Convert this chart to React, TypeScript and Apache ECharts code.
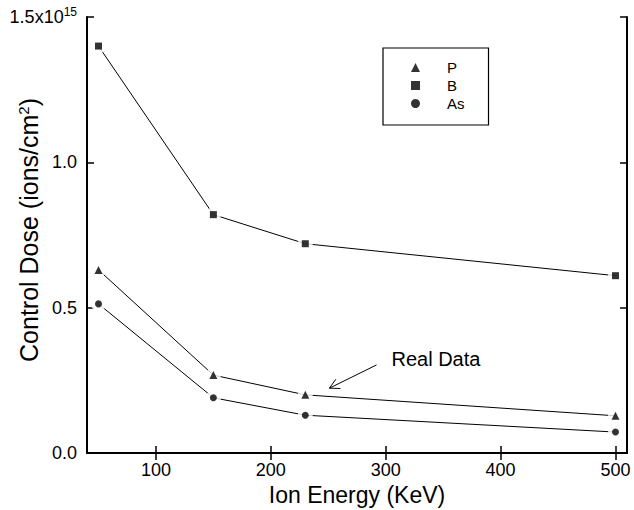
import React, { useEffect, useRef } from "react";
import * as echarts from "echarts";

const energies = [50, 150, 230, 500];
const doseP = [0.63, 0.268, 0.2, 0.128];
const doseB = [1.4, 0.82, 0.72, 0.61];
const doseAs = [0.513, 0.19, 0.13, 0.072];
const xTicks = [100, 200, 300, 400, 500];
const yTicks = [0, 0.5, 1.0, 1.5];

const FONT = "'Liberation Sans', Arial, Helvetica, sans-serif";

const seriesDefs = [
  { name: "P", values: doseP, symbol: "triangle", size: 8 },
  { name: "B", values: doseB, symbol: "rect", size: 7 },
  { name: "As", values: doseAs, symbol: "circle", size: 7 },
];

export default function App() {
  const ref = useRef<HTMLDivElement>(null);
  useEffect(() => {
    if (!ref.current) return;
    const chart = echarts.init(ref.current, undefined, { renderer: "svg" });
    const pairs = (vals: number[]) => energies.map((e, i) => [e, vals[i]]);
    const series: any[] = [];
    seriesDefs.forEach((s) => {
      series.push({
        name: s.name + "-line",
        type: "line",
        data: pairs(s.values),
        showSymbol: false,
        symbol: "none",
        lineStyle: { color: "#000", width: 1 },
        z: 2,
      });
      series.push({
        name: s.name + "-halo",
        type: "scatter",
        data: pairs(s.values),
        symbol: "circle",
        symbolSize: 15,
        itemStyle: { color: "#fff" },
        z: 3,
        silent: true,
      });
    });
    seriesDefs.forEach((s) => {
      series.push({
        name: s.name,
        type: "scatter",
        data: pairs(s.values),
        symbol: s.symbol,
        symbolSize: s.size,
        itemStyle: { color: "#000" },
        z: 4,
      });
    });

    const commonTick = { show: true, inside: true, length: 7, lineStyle: { color: "#000", width: 1.5 } };
    const axisLine = { show: true, lineStyle: { color: "#000", width: 2 } };

    chart.setOption({
      animation: false,
      backgroundColor: "#fff",
      textStyle: { fontFamily: FONT },
      grid: { left: 87, right: 7, top: 17, bottom: 57, containLabel: false, outerBoundsMode: "none" },
      legend: {
        left: 383,
        top: 48,
        orient: "vertical",
        padding: [12, 24, 14, 28],
        itemGap: 3,
        itemWidth: 9,
        itemHeight: 9,
        borderColor: "#000",
        borderWidth: 1.2,
        data: [
          { name: "P", icon: "triangle" },
          { name: "B", icon: "rect" },
          { name: "As", icon: "circle" },
        ],
        textStyle: { fontSize: 15, color: "#000", padding: [0, 0, 0, 22], fontFamily: FONT, lineHeight: 14 },
      },
      xAxis: [
        {
          type: "value",
          min: 40,
          max: 510,
          position: "bottom",
          name: "Ion Energy (KeV)",
          nameLocation: "middle",
          nameGap: 30,
          nameMoveOverlap: false,
          nameTextStyle: { fontSize: 23, color: "#000", fontFamily: FONT },
          axisLine,
          axisTick: { ...commonTick, customValues: xTicks },
          axisLabel: { customValues: xTicks, fontSize: 18, color: "#000", margin: 8, fontFamily: FONT },
          splitLine: { show: false },
        },
        {
          type: "value",
          min: 40,
          max: 510,
          position: "top",
          axisLine,
          axisTick: { ...commonTick, customValues: xTicks },
          axisLabel: { show: false },
          splitLine: { show: false },
        },
      ],
      yAxis: [
        {
          type: "value",
          min: 0,
          max: 1.5,
          position: "left",
          name: "Control Dose (ions/cm{sup|2})",
          nameLocation: "middle",
          nameGap: 45,
          nameMoveOverlap: false,
          nameTextStyle: {
            fontSize: 25,
            color: "#000",
            fontFamily: FONT,
            padding: [0, 0, 0, 10],
            rich: { sup: { fontSize: 15, padding: [0, 0, 11, 0], color: "#000", fontFamily: FONT } },
          },
          axisLine,
          axisTick: { ...commonTick, customValues: yTicks },
          axisLabel: {
            customValues: yTicks,
            fontSize: 18,
            color: "#000",
            margin: 10,
            fontFamily: FONT,
            formatter: (v: number) => (v === 1.5 ? "{b|1.5x10}{s|15}" : v.toFixed(1)),
            rich: {
              b: { fontSize: 18, color: "#000", fontFamily: FONT },
              s: { fontSize: 12, color: "#000", fontFamily: FONT, padding: [0, 0, 10, 0] },
            },
          },
          splitLine: { show: false },
        },
        {
          type: "value",
          min: 0,
          max: 1.5,
          position: "right",
          axisLine,
          axisTick: { ...commonTick, customValues: yTicks },
          axisLabel: { show: false },
          splitLine: { show: false },
        },
      ],
      series,
    });

    // Annotation in data coordinates
    const tip = chart.convertToPixel({ gridIndex: 0 }, [251, 0.223]) as number[];
    const tail = chart.convertToPixel({ gridIndex: 0 }, [292, 0.303]) as number[];
    const textPos = chart.convertToPixel({ gridIndex: 0 }, [305, 0.322]) as number[];
    const dx = tail[0] - tip[0];
    const dy = tail[1] - tip[1];
    const len = Math.sqrt(dx * dx + dy * dy);
    const ux = dx / len;
    const uy = dy / len;
    const hl = 11;
    const ang = (28 * Math.PI) / 180;
    const rot = (x: number, y: number, a: number) => [x * Math.cos(a) - y * Math.sin(a), x * Math.sin(a) + y * Math.cos(a)];
    const h1 = rot(ux, uy, ang);
    const h2 = rot(ux, uy, -ang);
    chart.setOption({
      graphic: [
        {
          type: "line",
          shape: { x1: tip[0], y1: tip[1], x2: tail[0], y2: tail[1] },
          style: { stroke: "#000", lineWidth: 1 },
          z: 10,
        },
        {
          type: "polyline",
          shape: {
            points: [
              [tip[0] + h1[0] * hl, tip[1] + h1[1] * hl],
              [tip[0], tip[1]],
              [tip[0] + h2[0] * hl, tip[1] + h2[1] * hl],
            ],
          },
          style: { stroke: "#000", lineWidth: 1, fill: "none" },
          z: 10,
        },
        {
          type: "text",
          x: textPos[0],
          y: textPos[1],
          style: { text: "Real Data", font: `20px ${FONT}`, fill: "#000", verticalAlign: "middle" },
          z: 10,
        },
      ],
    });

    return () => chart.dispose();
  }, []);
  return <div ref={ref} style={{ width: 634, height: 510, position: "absolute", left: 0, top: 0 }} />;
}
